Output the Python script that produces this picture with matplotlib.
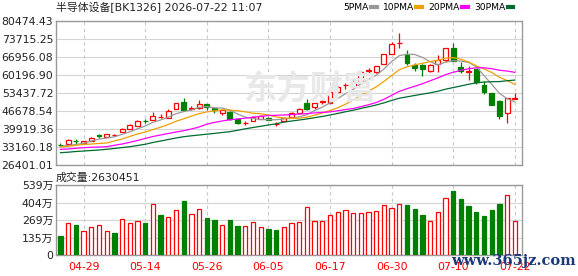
import matplotlib
matplotlib.use('Agg')
import matplotlib.pyplot as plt
import numpy as np
import pandas as pd

plt.rcParams['font.family'] = ['DejaVu Sans', 'Noto Sans CJK SC']

# ----------------------------------------------------------------------
#   Data
# ----------------------------------------------------------------------

title_text = '半导体设备[BK1326] 2026-07-22 11:07'
vol_title = '成交量:2630451'

price_ticks = [26401.01, 33160.18, 39919.36, 46678.54, 53437.72, 60196.90, 66956.08, 73715.25, 80474.43]
vol_ticks = [0, 1347500, 2695000, 4042500, 5390000]
vol_tick_labels = ['0', '135万', '269万', '404万', '539万']

date_index = [3, 11, 19, 27, 35, 43, 51, 59]
date_labels = ['04-29', '05-14', '05-26', '06-05', '06-17', '06-30', '07-10', '07-22']

open_ = [33988, 34288, 35490, 34663, 35301, 37480, 36917, 37480, 38794, 39920,
         41047, 43050, 43187, 44239, 43938, 47318, 49872, 47430, 47693, 49233,
         47618, 45900, 46304, 43600, 42172, 43037, 43562, 44163, 41798, 42812,
         44539, 45741, 49796, 47994, 50134, 49571, 53927, 56255, 55804, 57380,
         61775, 61136, 64253, 68083, 72026, 67520, 63765, 63952, 61512, 64215,
         65830, 70411, 63314, 61400, 62450, 56443, 53326, 50434, 45741, 51298]
high = [34476, 36277, 36165, 35500, 36917, 38155, 38043, 37931, 40183, 41610,
        43187, 43500, 46116, 45440, 47318, 49684, 51448, 48557, 50810, 49308,
        48182, 47100, 46680, 43675, 43037, 44802, 45178, 44239, 42436, 44051,
        46191, 47618, 51000, 49683, 50997, 53927, 56176, 57193, 58583, 61512,
        62939, 63690, 68083, 72589, 75856, 69585, 64816, 64140, 64140, 67708,
        70336, 72214, 65191, 63464, 62637, 57757, 53438, 50622, 51561, 53250]
low = [33349, 34175, 34401, 34551, 35227, 36428, 36917, 37180, 38794, 39808,
       41047, 42290, 43112, 43938, 43938, 47318, 46792, 47055, 47543, 47055,
       45929, 45066, 43412, 41981, 41422, 43037, 43562, 43300, 41159, 42812,
       44426, 45666, 47055, 47543, 49308, 49571, 53551, 54828, 55429, 57193,
       60460, 61061, 64215, 67970, 70336, 63952, 61700, 59822, 61437, 61437,
       65191, 65267, 61061, 58320, 57005, 53063, 48933, 43675, 42062, 51185]
close = [33838, 35790, 35340, 35420, 36654, 37292, 37931, 37592, 40033, 41422,
         43100, 42980, 44614, 44351, 46680, 49571, 47055, 47693, 49308, 48106,
         46900, 46950, 43675, 42059, 42247, 44539, 44914, 43375, 41872, 43938,
         45741, 47400, 47460, 49683, 50322, 53814, 55575, 56443, 57569, 61136,
         61963, 63389, 68008, 71838, 72138, 64703, 62826, 62450, 63952, 65717,
         70223, 65455, 61700, 61512, 57569, 53627, 49044, 44802, 51448, 51500]

# volume, in units of 10,000 (万)
volume_wan = [146, 244, 231, 185, 213, 228, 185, 169, 275, 244,
              262, 246, 393, 308, 290, 347, 418, 316, 354, 285,
              272, 231, 272, 223, 223, 254, 216, 200, 195, 216,
              246, 254, 367, 262, 262, 308, 331, 347, 323, 323,
              331, 339, 382, 362, 393, 385, 354, 308, 262, 331,
              439, 493, 431, 377, 331, 300, 347, 393, 462, 263.0451]

# moving averages at the left edge (window not yet full in the visible range)
ma5_head = [33349, 33725, 34100, 34551]
ma10_head = [33161, 33425, 33800, 34100, 34288, 34476, 34663, 35414, 36165]
ma20_head = [32298, 32410, 32673, 32898, 33049, 33161, 33274, 33800, 34288, 34926,
             35602, 36353, 37104, 37667, 38231, 38794, 39282, 39920, 40671]
ma30_head = [31021, 31209, 31472, 31659, 31847, 32035, 32298, 32598, 32936, 33274,
             33725, 34175, 34851, 35414, 35978, 36541, 37029, 37367, 37667, 37968,
             38268, 38606, 38907, 39432, 39995, 40484, 40934, 41422, 41873]

# ----------------------------------------------------------------------
#   Plot
# ----------------------------------------------------------------------

W, H = 578, 276
red = '#ff0000'
green = '#008000'
grid_c = '#d4d4d4'
frame_c = '#999999'

open_ = np.array(open_, float)
high = np.array(high, float)
low = np.array(low, float)
close = np.array(close, float)
volume = np.array(volume_wan) * 1e4
x = np.arange(len(close))


def moving_average(n, head):
    ma = pd.Series(close).rolling(n).mean().to_numpy()
    ma[:n - 1] = head
    return ma


fig = plt.figure(figsize=(W / 100, H / 100), dpi=100)
ax = fig.add_axes([56 / W, 1 - 165 / H, 466 / W, 144 / H])
axv = fig.add_axes([56 / W, 1 - 255 / H, 466 / W, 70 / H])

# watermark
fig.text(310 / W, 1 - 90 / H, '东方财富', fontsize=24, color='#e8e8e8', fontweight='bold',
         family=['Noto Sans CJK SC'], ha='center', va='center', zorder=0)

up = close >= open_
body_face = np.where(up, 'white', green)
body_edge = np.where(up, red, green)
ax.vlines(x, low, high, colors=body_edge, lw=0.9, zorder=2)
ax.bar(x, np.maximum(np.abs(close - open_), 60), bottom=np.minimum(open_, close), width=0.64,
       color=body_face, edgecolor=body_edge, linewidth=0.9, zorder=3)

ma_styles = [(5, ma5_head, '#999999', '5PMA'),
             (10, ma10_head, '#f0a000', '10PMA'),
             (20, ma20_head, '#ff00ff', '20PMA'),
             (30, ma30_head, '#006b2e', '30PMA')]
for n, head, c, lab in ma_styles:
    ax.plot(x, moving_average(n, head), color=c, lw=0.9, zorder=4, label=lab)

ax.set_ylim(price_ticks[0], price_ticks[-1])
ax.set_yticks(price_ticks)
ax.set_yticklabels([f'{v:.2f}' for v in price_ticks])

# volume bars (colour follows close vs previous close)
vol_up = np.r_[close[0] >= open_[0], close[1:] >= close[:-1]]
axv.bar(x, volume, width=0.56, color=np.where(vol_up, 'white', green),
        edgecolor=np.where(vol_up, red, green), linewidth=0.9, zorder=3)
axv.set_ylim(0, vol_ticks[-1])
axv.set_yticks(vol_ticks)
axv.set_yticklabels(vol_tick_labels)

for a in (ax, axv):
    a.set_xlim(-0.58, 59.93)
    a.set_xticks(date_index)
    a.grid(axis='y', color=grid_c, lw=0.8, zorder=0)
    a.grid(axis='x', color='#c8c8c8', lw=0.8, ls=(0, (3, 3)), zorder=0)
    a.set_facecolor('none')
    for s in a.spines.values():
        s.set_color(frame_c)
        s.set_linewidth(1.0)
    a.tick_params(length=0, pad=2, labelsize=7.8, labelcolor='#222222')

ax.set_xticklabels([])
axv.set_xticklabels(date_labels, color=red)
axv.tick_params(axis='x', pad=5)

fig.text(56 / W, 1 - 8 / H, title_text, fontsize=7.8, color='#222222', va='center', ha='left')
fig.text(56 / W, 1 - 178 / H, vol_title, fontsize=7.8, color='#222222', va='center', ha='left')

ax.legend(loc='center right', bbox_to_anchor=(513 / W, 1 - 8 / H), bbox_transform=fig.transFigure,
          ncol=4, frameon=False, fontsize=6.6, markerfirst=False, handlelength=0.6,
          handletextpad=0.25, columnspacing=0.7, borderpad=0, borderaxespad=0)
for line in ax.get_legend().get_lines():
    line.set_linewidth(3)

fig.text(513 / W, 1 - 261 / H, 'www.365jz.com', fontsize=10.5, color='#1c3a78', fontweight='bold',
         family=['DejaVu Serif'], ha='center', va='center')

fig.savefig('out.png', dpi=100)
